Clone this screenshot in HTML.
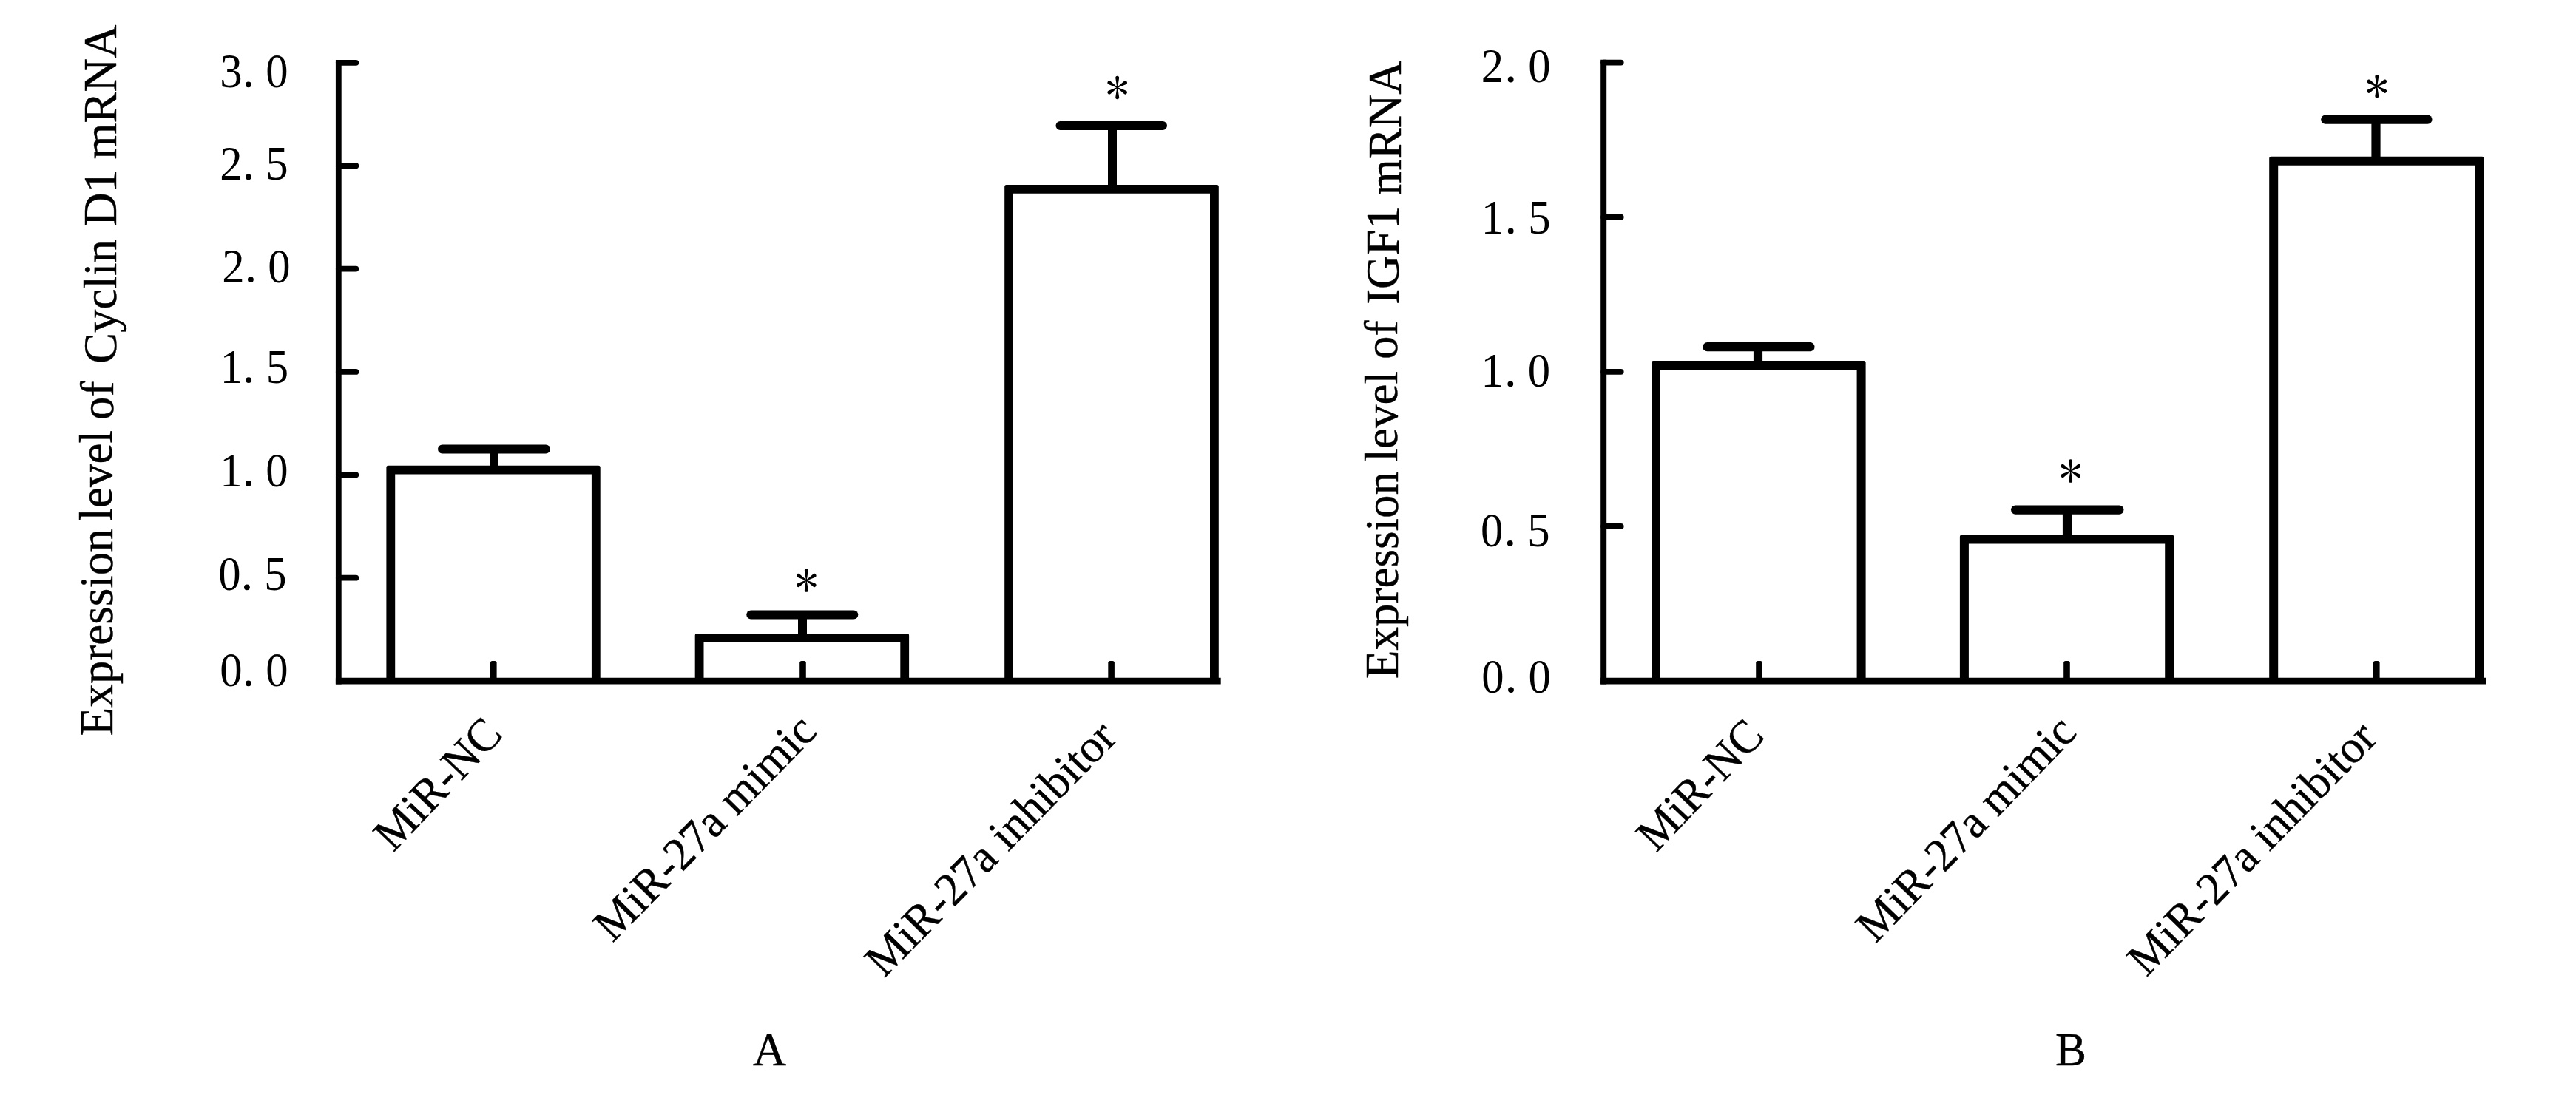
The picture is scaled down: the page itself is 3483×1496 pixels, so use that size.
<!DOCTYPE html>
<html><head><meta charset="utf-8"><title>Figure</title>
<style>
html,body{margin:0;padding:0;background:#fff;}
body{width:3483px;height:1496px;overflow:hidden;}
svg{display:block;}
text{font-family:"Liberation Serif",serif;fill:#000;}
.b{stroke:#000;stroke-width:0.4;stroke-linejoin:round;}
</style></head><body>
<svg width="3483" height="1496" viewBox="0 0 3483 1496">
<rect x="0" y="0" width="3483" height="1496" fill="#fff"/>
<line x1="457.80" y1="81.10" x2="457.80" y2="925.60" stroke="#000" stroke-width="7.80"/>
<line x1="453.90" y1="921.20" x2="1650.70" y2="921.20" stroke="#000" stroke-width="8.80"/>
<line x1="457.80" y1="84.80" x2="481.30" y2="84.80" stroke="#000" stroke-width="7.80" stroke-linecap="round"/>
<line x1="457.80" y1="224.17" x2="481.30" y2="224.17" stroke="#000" stroke-width="7.80" stroke-linecap="round"/>
<line x1="457.80" y1="363.54" x2="481.30" y2="363.54" stroke="#000" stroke-width="7.80" stroke-linecap="round"/>
<line x1="457.80" y1="502.91" x2="481.30" y2="502.91" stroke="#000" stroke-width="7.80" stroke-linecap="round"/>
<line x1="457.80" y1="642.28" x2="481.30" y2="642.28" stroke="#000" stroke-width="7.80" stroke-linecap="round"/>
<line x1="457.80" y1="781.65" x2="481.30" y2="781.65" stroke="#000" stroke-width="7.80" stroke-linecap="round"/>
<path d="M522.40 921.20V632.20Q522.40 629.70 524.90 629.70H809.20Q811.70 629.70 811.70 632.20V921.20H799.90V641.50H534.20V921.20Z" fill="#000"/>
<path d="M939.70 921.20V859.60Q939.70 857.10 942.20 857.10H1226.60Q1229.10 857.10 1229.10 859.60V921.20H1217.30V868.90H951.50V921.20Z" fill="#000"/>
<path d="M1358.20 921.20V252.50Q1358.20 250.00 1360.70 250.00H1645.30Q1647.80 250.00 1647.80 252.50V921.20H1636.00V261.80H1370.00V921.20Z" fill="#000"/>
<line x1="598.00" y1="607.50" x2="738.00" y2="607.50" stroke="#000" stroke-width="12.00" stroke-linecap="round"/>
<line x1="668.00" y1="607.50" x2="668.00" y2="635.60" stroke="#000" stroke-width="12.00"/>
<line x1="1015.30" y1="831.50" x2="1154.30" y2="831.50" stroke="#000" stroke-width="12.00" stroke-linecap="round"/>
<line x1="1085.00" y1="831.50" x2="1085.00" y2="863.00" stroke="#000" stroke-width="12.00"/>
<line x1="1433.50" y1="170.00" x2="1572.00" y2="170.00" stroke="#000" stroke-width="12.00" stroke-linecap="round"/>
<line x1="1504.00" y1="170.00" x2="1504.00" y2="255.90" stroke="#000" stroke-width="12.00"/>
<rect x="663.00" y="894.00" width="8.6" height="29.20" rx="2.6" ry="2.6" fill="#000"/>
<rect x="1081.20" y="894.00" width="8.6" height="29.20" rx="2.6" ry="2.6" fill="#000"/>
<rect x="1498.30" y="894.00" width="8.6" height="29.20" rx="2.6" ry="2.6" fill="#000"/>
<path transform="translate(1090.30,0) scale(0.945,1) translate(-1090.30,0)" d="M1090.80 785.00L1092.90 771.85A2.60 2.60 0 0 0 1087.70 771.85L1089.80 785.00ZM1090.55 784.57L1080.21 776.17A2.60 2.60 0 0 0 1077.61 780.68L1090.05 785.43ZM1090.05 784.57L1077.61 789.32A2.60 2.60 0 0 0 1080.21 793.83L1090.55 785.43ZM1089.80 785.00L1087.70 798.15A2.60 2.60 0 0 0 1092.90 798.15L1090.80 785.00ZM1090.05 785.43L1100.39 793.83A2.60 2.60 0 0 0 1102.99 789.32L1090.55 784.57ZM1090.55 785.43L1102.99 780.68A2.60 2.60 0 0 0 1100.39 776.17L1090.05 784.57Z" fill="#000"/>
<path transform="translate(1510.70,0) scale(0.945,1) translate(-1510.70,0)" d="M1511.20 118.40L1513.30 105.25A2.60 2.60 0 0 0 1508.10 105.25L1510.20 118.40ZM1510.95 117.97L1500.61 109.57A2.60 2.60 0 0 0 1498.01 114.08L1510.45 118.83ZM1510.45 117.97L1498.01 122.72A2.60 2.60 0 0 0 1500.61 127.23L1510.95 118.83ZM1510.20 118.40L1508.10 131.55A2.60 2.60 0 0 0 1513.30 131.55L1511.20 118.40ZM1510.45 118.83L1520.79 127.23A2.60 2.60 0 0 0 1523.39 122.72L1510.95 117.97ZM1510.95 118.83L1523.39 114.08A2.60 2.60 0 0 0 1520.79 109.57L1510.45 117.97Z" fill="#000"/>
<line x1="2168.20" y1="80.70" x2="2168.20" y2="925.60" stroke="#000" stroke-width="8.00"/>
<line x1="2164.20" y1="921.20" x2="3361.00" y2="921.20" stroke="#000" stroke-width="8.80"/>
<line x1="2168.20" y1="84.60" x2="2191.70" y2="84.60" stroke="#000" stroke-width="7.80" stroke-linecap="round"/>
<line x1="2168.20" y1="293.70" x2="2191.70" y2="293.70" stroke="#000" stroke-width="7.80" stroke-linecap="round"/>
<line x1="2168.20" y1="502.80" x2="2191.70" y2="502.80" stroke="#000" stroke-width="7.80" stroke-linecap="round"/>
<line x1="2168.20" y1="711.90" x2="2191.70" y2="711.90" stroke="#000" stroke-width="7.80" stroke-linecap="round"/>
<path d="M2233.00 921.20V490.60Q2233.00 488.10 2235.50 488.10H2520.10Q2522.60 488.10 2522.60 490.60V921.20H2510.60V500.10H2245.00V921.20Z" fill="#000"/>
<path d="M2649.90 921.20V726.00Q2649.90 723.50 2652.40 723.50H2936.70Q2939.20 723.50 2939.20 726.00V921.20H2927.20V735.50H2661.90V921.20Z" fill="#000"/>
<path d="M3068.20 921.20V214.20Q3068.20 211.70 3070.70 211.70H3356.00Q3358.50 211.70 3358.50 214.20V921.20H3346.50V223.70H3080.20V921.20Z" fill="#000"/>
<line x1="2308.30" y1="469.20" x2="2447.50" y2="469.20" stroke="#000" stroke-width="12.20" stroke-linecap="round"/>
<line x1="2377.00" y1="469.20" x2="2377.00" y2="494.00" stroke="#000" stroke-width="12.20"/>
<line x1="2725.10" y1="689.60" x2="2865.40" y2="689.60" stroke="#000" stroke-width="12.20" stroke-linecap="round"/>
<line x1="2795.00" y1="689.60" x2="2795.00" y2="729.50" stroke="#000" stroke-width="12.20"/>
<line x1="3144.30" y1="161.60" x2="3282.40" y2="161.60" stroke="#000" stroke-width="12.20" stroke-linecap="round"/>
<line x1="3212.50" y1="161.60" x2="3212.50" y2="217.70" stroke="#000" stroke-width="12.20"/>
<rect x="2374.20" y="894.00" width="8.6" height="29.20" rx="2.6" ry="2.6" fill="#000"/>
<rect x="2790.20" y="894.00" width="8.6" height="29.20" rx="2.6" ry="2.6" fill="#000"/>
<rect x="3209.00" y="894.00" width="8.6" height="29.20" rx="2.6" ry="2.6" fill="#000"/>
<path transform="translate(2799.70,0) scale(0.945,1) translate(-2799.70,0)" d="M2800.20 637.00L2802.30 623.85A2.60 2.60 0 0 0 2797.10 623.85L2799.20 637.00ZM2799.95 636.57L2789.61 628.17A2.60 2.60 0 0 0 2787.01 632.68L2799.45 637.43ZM2799.45 636.57L2787.01 641.32A2.60 2.60 0 0 0 2789.61 645.83L2799.95 637.43ZM2799.20 637.00L2797.10 650.15A2.60 2.60 0 0 0 2802.30 650.15L2800.20 637.00ZM2799.45 637.43L2809.79 645.83A2.60 2.60 0 0 0 2812.39 641.32L2799.95 636.57ZM2799.95 637.43L2812.39 632.68A2.60 2.60 0 0 0 2809.79 628.17L2799.45 636.57Z" fill="#000"/>
<path transform="translate(3213.80,0) scale(0.945,1) translate(-3213.80,0)" d="M3214.30 116.70L3216.40 103.55A2.60 2.60 0 0 0 3211.20 103.55L3213.30 116.70ZM3214.05 116.27L3203.71 107.87A2.60 2.60 0 0 0 3201.11 112.38L3213.55 117.13ZM3213.55 116.27L3201.11 121.02A2.60 2.60 0 0 0 3203.71 125.53L3214.05 117.13ZM3213.30 116.70L3211.20 129.85A2.60 2.60 0 0 0 3216.40 129.85L3214.30 116.70ZM3213.55 117.13L3223.89 125.53A2.60 2.60 0 0 0 3226.49 121.02L3214.05 116.27ZM3214.05 117.13L3226.49 112.38A2.60 2.60 0 0 0 3223.89 107.87L3213.55 116.27Z" fill="#000"/>
<text transform="translate(312.50,118.00) scale(0.915,1)" font-size="66.3" text-anchor="middle">3</text><circle cx="335.90" cy="114.30" r="3.9" fill="#000"/><text transform="translate(374.50,118.00) scale(0.915,1)" font-size="66.3" text-anchor="middle">0</text>
<text transform="translate(312.50,243.00) scale(0.915,1)" font-size="66.3" text-anchor="middle">2</text><circle cx="335.90" cy="239.30" r="3.9" fill="#000"/><text transform="translate(374.50,243.00) scale(0.915,1)" font-size="66.3" text-anchor="middle">5</text>
<text transform="translate(315.50,381.80) scale(0.915,1)" font-size="66.3" text-anchor="middle">2</text><circle cx="338.90" cy="378.10" r="3.9" fill="#000"/><text transform="translate(377.50,381.80) scale(0.915,1)" font-size="66.3" text-anchor="middle">0</text>
<text transform="translate(312.80,517.80) scale(0.915,1)" font-size="66.3" text-anchor="middle">1</text><circle cx="336.20" cy="514.10" r="3.9" fill="#000"/><text transform="translate(374.80,517.80) scale(0.915,1)" font-size="66.3" text-anchor="middle">5</text>
<text transform="translate(312.50,657.50) scale(0.915,1)" font-size="66.3" text-anchor="middle">1</text><circle cx="335.90" cy="653.80" r="3.9" fill="#000"/><text transform="translate(374.50,657.50) scale(0.915,1)" font-size="66.3" text-anchor="middle">0</text>
<text transform="translate(310.50,798.00) scale(0.915,1)" font-size="66.3" text-anchor="middle">0</text><circle cx="333.90" cy="794.30" r="3.9" fill="#000"/><text transform="translate(372.50,798.00) scale(0.915,1)" font-size="66.3" text-anchor="middle">5</text>
<text transform="translate(312.50,928.00) scale(0.915,1)" font-size="66.3" text-anchor="middle">0</text><circle cx="335.90" cy="924.30" r="3.9" fill="#000"/><text transform="translate(374.50,928.00) scale(0.915,1)" font-size="66.3" text-anchor="middle">0</text>
<text transform="translate(2018.00,111.20) scale(0.915,1)" font-size="66.3" text-anchor="middle">2</text><circle cx="2042.70" cy="107.50" r="3.9" fill="#000"/><text transform="translate(2081.40,111.20) scale(0.915,1)" font-size="66.3" text-anchor="middle">0</text>
<text transform="translate(2018.00,316.20) scale(0.915,1)" font-size="66.3" text-anchor="middle">1</text><circle cx="2042.70" cy="312.50" r="3.9" fill="#000"/><text transform="translate(2081.40,316.20) scale(0.915,1)" font-size="66.3" text-anchor="middle">5</text>
<text transform="translate(2017.60,523.00) scale(0.915,1)" font-size="66.3" text-anchor="middle">1</text><circle cx="2042.30" cy="519.30" r="3.9" fill="#000"/><text transform="translate(2081.00,523.00) scale(0.915,1)" font-size="66.3" text-anchor="middle">0</text>
<text transform="translate(2017.10,738.50) scale(0.915,1)" font-size="66.3" text-anchor="middle">0</text><circle cx="2041.80" cy="734.80" r="3.9" fill="#000"/><text transform="translate(2080.50,738.50) scale(0.915,1)" font-size="66.3" text-anchor="middle">5</text>
<text transform="translate(2018.30,936.80) scale(0.915,1)" font-size="66.3" text-anchor="middle">0</text><circle cx="2043.00" cy="933.10" r="3.9" fill="#000"/><text transform="translate(2081.70,936.80) scale(0.915,1)" font-size="66.3" text-anchor="middle">0</text>
<text class="b" id="yt1" transform="translate(153,992.6) rotate(-90)" font-size="63"><tspan dx="-2.7" dy="-1.2">Expression</tspan><tspan dx="-4.9" dy="-1.3"> level</tspan><tspan dx="-1.8" dy="2.1"> of</tspan><tspan dx="7.8" dy="3.9"> Cyclin</tspan><tspan dx="2.3" dy="0.1"> D1</tspan><tspan dx="-2.3" dy="0.1"> mRNA</tspan></text>
<text class="b" id="yt2" transform="translate(1890,917.2) rotate(-90)" font-size="63"><tspan dx="-0.8" dy="0.3">Expression</tspan><tspan dx="-2.2" dy="-0.9"> level</tspan><tspan dx="0.2" dy="0"> of</tspan><tspan dx="6" dy="2.0"> IGF1</tspan><tspan dx="-1.2" dy="2.1"> mRNA</tspan></text>
<text class="b" id="xa1" transform="translate(531.70,1153.80) rotate(-46.50) scale(0.975,1)" font-size="63">MiR-NC</text>
<text class="b" id="xa2" transform="translate(828.30,1276.10) rotate(-45.60) scale(0.985,1)" font-size="63">MiR-27a mimic</text>
<text class="b" id="xa3" transform="translate(1195.20,1324.00) rotate(-45.60) scale(0.986,1)" font-size="63">MiR-27a inhibitor</text>
<text class="b" id="xb1" transform="translate(2239.20,1154.30) rotate(-46.50) scale(0.965,1)" font-size="63">MiR-NC</text>
<text class="b" id="xb2" transform="translate(2535.80,1277.30) rotate(-46.05) scale(0.978,1)" font-size="63">MiR-27a mimic</text>
<text class="b" id="xb3" transform="translate(2902.30,1322.40) rotate(-45.66) scale(0.977,1)" font-size="63">MiR-27a inhibitor</text>
<text class="b" id="pa" x="1040.5" y="1440.8" font-size="63" text-anchor="middle">A</text>
<text class="b" id="pb" x="2779" y="1440.7" font-size="63">B</text>
</svg>
</body></html>
